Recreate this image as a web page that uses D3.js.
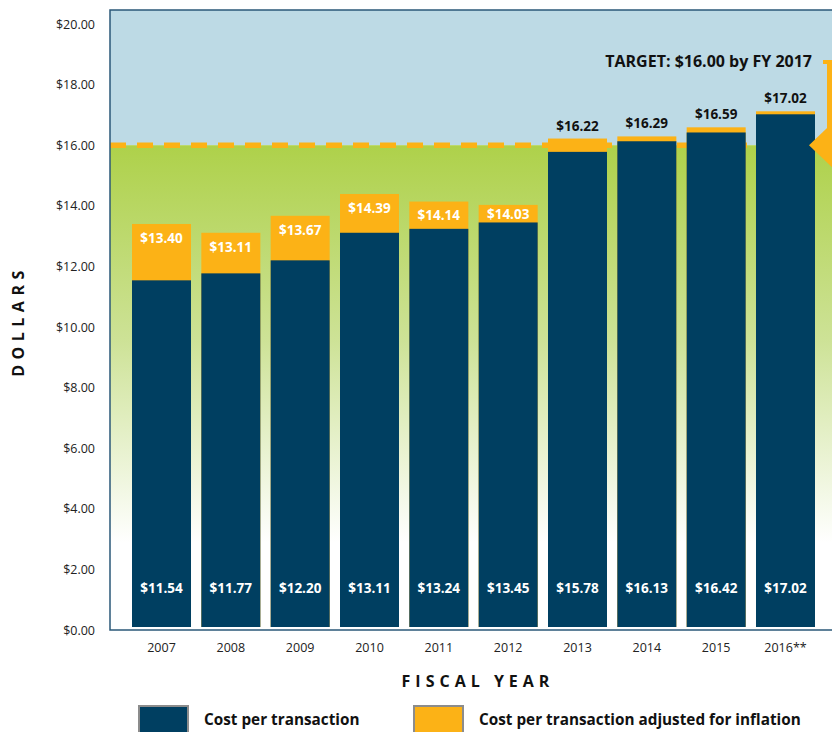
<!DOCTYPE html>
<html><head><meta charset="utf-8">
<script src="https://cdn.jsdelivr.net/npm/d3@7"></script>
<style>html,body{margin:0;padding:0;background:#fff;}svg{display:block;font-family:"Open Sans",Lato,sans-serif;}</style>
</head><body>
<svg id="c" width="832" height="732"></svg>
<script>
const years = ["2007","2008","2009","2010","2011","2012","2013","2014","2015","2016**"];
const cost = [11.54, 11.77, 12.20, 13.11, 13.24, 13.45, 15.78, 16.13, 16.42, 17.02];
const adjusted = [13.40, 13.11, 13.67, 14.39, 14.14, 14.03, 16.22, 16.29, 16.59, 17.02];
const yTicks = [0, 2, 4, 6, 8, 10, 12, 14, 16, 18, 20];
const target = 16;
const targetLabel = "TARGET: $16.00 by FY 2017";
const seriesNames = ["Cost per transaction", "Cost per transaction adjusted for inflation"];

(function(){
const DARK = "#003f61", ORANGE = "#fcb216", SKY = "#bddae5", GREEN = "#aed14a";
const svg = d3.select("#c");
const x = d3.scaleBand().domain(years).range([132, 815]).paddingInner(0.149).paddingOuter(0);
const y = d3.scaleLinear().domain([0, 20]).range([630, 24]);
const pL = 110, pT = 10, pR = 832, pB = 630;

const defs = svg.append("defs");
const g = defs.append("linearGradient").attr("id","grn").attr("x1",0).attr("x2",0).attr("y1",0).attr("y2",1);
g.append("stop").attr("offset","0%").attr("stop-color",GREEN);
g.append("stop").attr("offset","40%").attr("stop-color","#cde296");
g.append("stop").attr("offset","82%").attr("stop-color","#ffffff");
g.append("stop").attr("offset","100%").attr("stop-color","#ffffff");

// backgrounds
svg.append("rect").attr("x",pL).attr("y",pT).attr("width",pR-pL).attr("height",y(target)-pT).attr("fill",SKY);
svg.append("rect").attr("x",pL).attr("y",y(target)).attr("width",pR-pL).attr("height",pB-y(target)).attr("fill","url(#grn)");
// dashed target line
svg.append("line").attr("x1",pL).attr("x2",822).attr("y1",y(target)).attr("y2",y(target))
  .attr("stroke",ORANGE).attr("stroke-width",5.5).attr("stroke-dasharray","16 11");
// frame
svg.append("path").attr("d",`M${pR},${pT}H${pL}V${pB}H${pR}`).attr("fill","none")
  .attr("stroke","#2b5878").attr("stroke-width",1.5);

// bars
const data = years.map((yr,i)=>({yr, c:cost[i], a:adjusted[i]}));
const bars = svg.append("g").selectAll("g").data(data).join("g");
const oTop = d => Math.min(y(d.a), y(d.c)-3);
bars.append("rect").attr("x",d=>x(d.yr)).attr("width",x.bandwidth())
  .attr("y",oTop).attr("height",d=>y(0)-3-oTop(d)).attr("fill",ORANGE);
bars.append("rect").attr("x",d=>x(d.yr)).attr("width",x.bandwidth())
  .attr("y",d=>y(d.c)).attr("height",d=>y(0)-3-y(d.c)).attr("fill",DARK);
bars.append("text").attr("x",d=>x(d.yr)+x.bandwidth()/2).attr("y",593).attr("text-anchor","middle")
  .attr("fill","#fff").attr("font-weight","bold").attr("font-size",13.5).text(d=>"$"+d.c.toFixed(2));
const inside = d => d.a - d.c > 0.5;
bars.append("text").attr("x",d=>x(d.yr)+x.bandwidth()/2)
  .attr("y",d=> inside(d) ? Math.min(oTop(d)+19, (oTop(d)+y(d.c))/2+5) : oTop(d)-8)
  .attr("text-anchor","middle").attr("fill",d=>inside(d)?"#fff":"#111")
  .attr("font-weight","bold").attr("font-size",13.5).text(d=>"$"+d.a.toFixed(2));

// y axis labels
svg.append("g").selectAll("text").data(yTicks).join("text")
  .attr("x",95).attr("y",d=>y(d)+4.5).attr("text-anchor","end").attr("font-size",12.5).attr("fill","#222")
  .text(d=>"$"+d.toFixed(2));
// x axis labels
svg.append("g").selectAll("text").data(years).join("text")
  .attr("x",d=>x(d)+x.bandwidth()/2).attr("y",652).attr("text-anchor","middle").attr("font-size",12.5).attr("fill","#222")
  .text(d=>d);

// axis titles
svg.append("text").attr("transform","translate(24,321) rotate(-90)").attr("text-anchor","middle")
  .attr("font-weight","bold").attr("font-size",16).attr("letter-spacing",5.5).attr("fill","#111").text("DOLLARS");
svg.append("text").attr("x",478).attr("y",687).attr("text-anchor","middle")
  .attr("font-weight","bold").attr("font-size",16).attr("letter-spacing",5).attr("fill","#111").text("FISCAL YEAR");

// target annotation
svg.append("text").attr("x",812).attr("y",67).attr("text-anchor","end").attr("font-weight","bold")
  .attr("font-size",16).attr("fill","#111").text(targetLabel);
svg.append("rect").attr("x",823).attr("y",60).attr("width",10).attr("height",4).attr("fill",ORANGE);
svg.append("rect").attr("x",827).attr("y",60).attr("width",6).attr("height",y(target)-60).attr("fill",ORANGE);
svg.append("path").attr("d",`M809,${y(target)}L832,${y(target)-22}V${y(target)+22}Z`).attr("fill",ORANGE);

// legend
const lg = svg.append("g");
[[139,DARK,204],[414,ORANGE,479]].forEach((l,i)=>{
  lg.append("rect").attr("x",l[0]).attr("y",706).attr("width",49).attr("height",28).attr("fill",l[1])
    .attr("stroke","#8c8c8c").attr("stroke-width",2);
  lg.append("text").attr("x",l[2]).attr("y",725).attr("font-weight","bold").attr("font-size",15.3)
    .attr("fill","#111").text(seriesNames[i]);
});
})();
</script>
</body></html>
